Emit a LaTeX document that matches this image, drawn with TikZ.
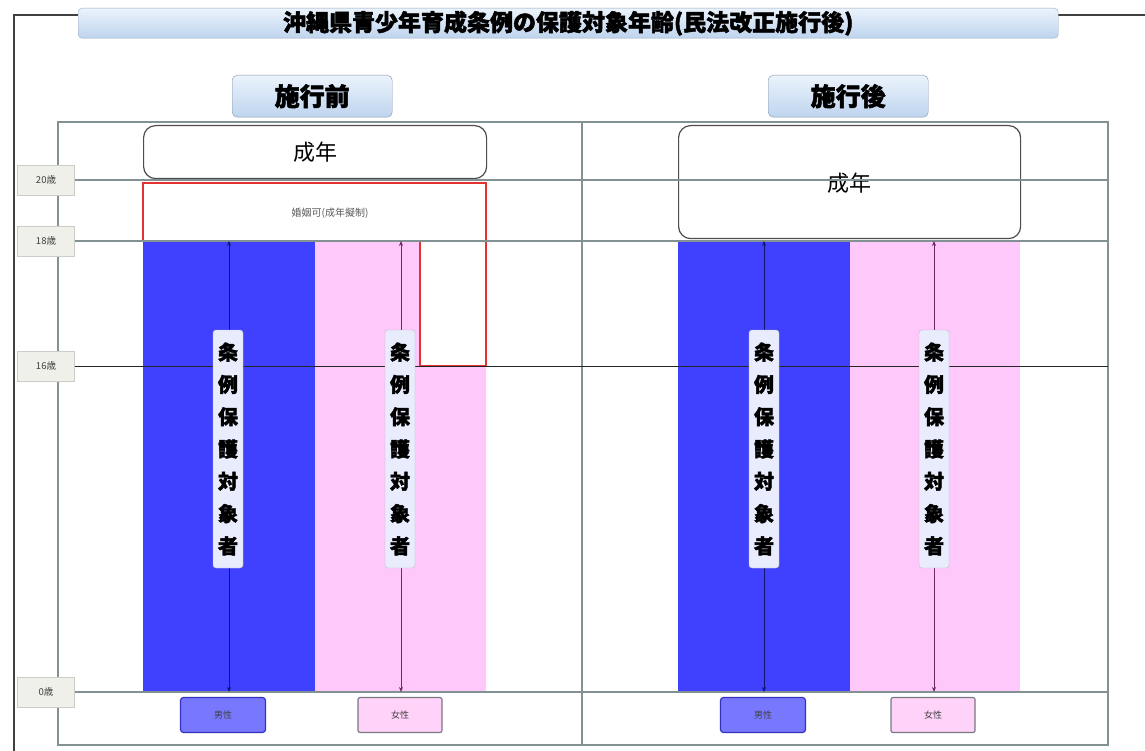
\documentclass[tikz,border=0pt]{standalone}
\usepackage{fontspec}
\setmainfont{Noto Sans CJK JP}
\newfontfamily\heavyfont{Noto Sans CJK JP}[BoldFeatures={FakeBold=2}]
\usetikzlibrary{arrows.meta}
\definecolor{barblue}{RGB}{64,64,255}
\definecolor{barpink}{RGB}{255,200,250}
\definecolor{framegray}{RGB}{130,145,145}
\definecolor{titletop}{RGB}{235,243,252}
\definecolor{titlebot}{RGB}{190,212,238}
\definecolor{agefill}{RGB}{240,240,234}
\definecolor{agedraw}{RGB}{205,205,200}
\definecolor{vtfill}{RGB}{232,236,252}
\definecolor{malefill}{RGB}{120,120,255}
\definecolor{maledraw}{RGB}{50,50,190}
\definecolor{femfill}{RGB}{255,210,250}
\definecolor{femdraw}{RGB}{120,120,130}
\definecolor{redline}{RGB}{228,50,50}
\definecolor{arrblue}{RGB}{20,20,110}
\definecolor{arrpink}{RGB}{110,40,100}
\tikzset{
  titlebar/.style={draw=titlebot!80!black, rounded corners=4pt, top color=titletop, bottom color=titlebot, minimum width=980pt, minimum height=30pt, anchor=north west, inner sep=0pt, font=\heavyfont\bfseries\fontsize{23}{23}\selectfont},
  headbtn/.style={draw=titlebot!70!black, rounded corners=5pt, top color=titletop, bottom color=titlebot, minimum width=160pt, minimum height=42pt, anchor=north west, inner sep=0pt, font=\heavyfont\bfseries\fontsize{25}{25}\selectfont},
  adultbox/.style={draw=black!70, line width=1.2pt, rounded corners=12pt, fill=white, anchor=north west, inner sep=0pt, font=\fontsize{22}{22}\selectfont},
  agelabel/.style={draw=agedraw, fill=agefill, minimum width=57pt, minimum height=30pt, inner sep=0pt, font=\fontsize{9.5}{9.5}\selectfont, text=black!75},
  ageline/.style={draw=framegray, line width=1.5pt},
  vtext/.style={draw=black!25, fill=vtfill, rounded corners=3pt, minimum width=30pt, minimum height=238pt, inner sep=0pt, align=center, font=\heavyfont\bfseries\fontsize{20}{32.3}\selectfont},
  malebox/.style={draw=maledraw, line width=1.2pt, fill=malefill, rounded corners=3pt, minimum width=85pt, minimum height=35pt, inner sep=0pt, font=\fontsize{9}{9}\selectfont, text=black!75},
  fembox/.style={draw=femdraw, line width=1.2pt, fill=femfill, rounded corners=2pt, minimum width=84pt, minimum height=35pt, inner sep=0pt, font=\fontsize{9}{9}\selectfont, text=black!75},
  span/.style={{Stealth[length=5pt,width=4pt]}-{Stealth[length=5pt,width=4pt]}, line width=0.8pt}
}
\begin{document}
\begin{tikzpicture}[x=1pt,y=-1pt]
\useasboundingbox (0,0) rectangle (1145,751);
\fill[white] (0,0) rectangle (1145,751);
% outer frame
\draw[black!75, line width=2pt] (78,15) -- (14,15) -- (14,751);
\draw[black!75, line width=2pt] (1058,15) -- (1145,15);
% title
\node[titlebar] (title) at (78,8) {沖縄県青少年育成条例の保護対象年齢(民法改正施行後)};
% headers
\node[headbtn] (before) at (232,75) {施行前};
\node[headbtn] (after) at (768,75) {施行後};
% main frame
\draw[framegray, line width=2.5pt] (58,122) rectangle (1108,745);
\draw[framegray, line width=2pt] (582,122) -- (582,745);
% left panel
\node[adultbox, minimum width=343pt, minimum height=53pt] (adultL) at (143,125) {成年};
\fill[barblue] (143,241) rectangle (315,692);
\fill[barpink] (315,241) -- (420,241) -- (420,366) -- (486,366) -- (486,692) -- (315,692) -- cycle;
\draw[redline, line width=2pt] (143,241) -- (143,183) -- (486,183) -- (486,366) -- (420,366) -- (420,241) -- cycle;
\node[font=\fontsize{10}{10}\selectfont, text=black!65] (marriage) at (330,213) {婚姻可(成年擬制)};
% right panel
\node[adultbox, minimum width=342pt, minimum height=113pt, text depth=-8pt] (adultR) at (678,125) {成年};
\fill[barblue] (678,241) rectangle (850,692);
\fill[barpink] (850,241) rectangle (1020,692);
% age lines
\node[agelabel] (a20) at (46,180) {20歳};
\node[agelabel] (a18) at (46,241) {18歳};
\node[agelabel] (a16) at (46,366) {16歳};
\node[agelabel] (a0) at (46,692) {0歳};
\draw[ageline] (a20.east) -- (1108,180);
\draw[ageline] (a18.east) -- (1108,241);
\draw[black!85, line width=1pt] (a16.east) -- (1108,366);
\draw[ageline] (a0.east) -- (1108,692);
% span arrows
\coordinate (lmT) at (229,241); \coordinate (lmB) at (229,692);
\coordinate (lfT) at (401,241); \coordinate (lfB) at (401,692);
\coordinate (rmT) at (764,241); \coordinate (rmB) at (764,692);
\coordinate (rfT) at (934,241); \coordinate (rfB) at (934,692);
\draw[span, draw=arrblue] (lmT) -- (lmB);
\draw[span, draw=arrpink] (lfT) -- (lfB);
\draw[span, draw=arrblue] (rmT) -- (rmB);
\draw[span, draw=arrpink] (rfT) -- (rfB);
% vertical labels
\node[vtext] (vlm) at (228,449) {条\\例\\保\\護\\対\\象\\者};
\node[vtext] (vlf) at (400,449) {条\\例\\保\\護\\対\\象\\者};
\node[vtext] (vrm) at (764,449) {条\\例\\保\\護\\対\\象\\者};
\node[vtext] (vrf) at (934,449) {条\\例\\保\\護\\対\\象\\者};
% bottom labels
\node[malebox] (mL) at (223,715) {男性};
\node[fembox] (fL) at (400,715) {女性};
\node[malebox] (mR) at (763,715) {男性};
\node[fembox] (fR) at (933,715) {女性};
\end{tikzpicture}
\end{document}
